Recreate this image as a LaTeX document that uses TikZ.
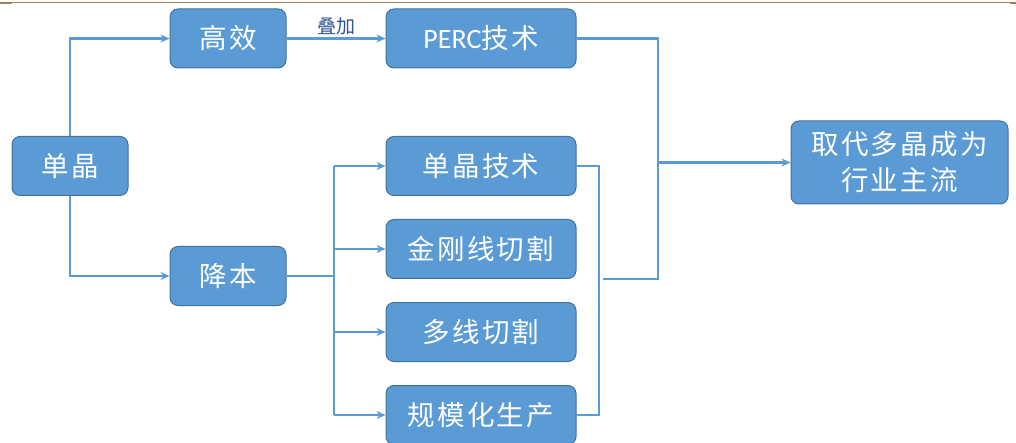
\documentclass[tikz,border=0pt]{standalone}
\usepackage{fontspec}
\setmainfont{Carlito}
\newfontfamily\cjk[LetterSpace=8]{Noto Sans CJK SC}
\newfontfamily\cjklbl{Noto Sans CJK SC}
\usetikzlibrary{arrows.meta}
\definecolor{boxfill}{HTML}{5B9BD5}
\definecolor{boxline}{HTML}{41719C}
\definecolor{conn}{HTML}{5B9BD5}
\definecolor{topline}{HTML}{A57E5A}
\definecolor{lbl}{HTML}{2F5597}
\begin{document}
\begin{tikzpicture}[x=1pt,y=-1pt,
  box/.style={draw=boxline, fill=boxfill, line width=1pt, rounded corners=8pt,
    text=white, font=\cjk\fontsize{27.5}{36}\selectfont, inner sep=0pt, align=center},
  small/.style={box, minimum width=116pt, minimum height=59pt},
  wide/.style={box, minimum width=190pt, minimum height=59pt},
  conn/.style={draw=conn, line width=2.8pt},
  arr/.style={conn, -{Stealth[length=9pt,width=8pt]}}]
\useasboundingbox (0,0) rectangle (1016,443);
% top rule
\draw[topline, line width=1.2pt] (0,2.5) -- (1016,2.5);
\fill[topline] (0,1.8) rectangle (12,4.5);
\fill[topline] (1010,1.8) rectangle (1016,4.5);

\node[small] (dj) at (70,166) {单晶};
\node[small] (gx) at (228,38.5) {高效};
\node[small] (jb) at (228,276) {降本};
\node[wide] (perc) at (481,38.5) {{\fontspec{Carlito}\fontsize{28}{30}\selectfont PERC}技术};
\node[wide] (djjs) at (481,166) {单晶技术};
\node[wide] (jgx) at (481,249) {金刚线切割};
\node[wide] (dxq) at (481,332) {多线切割};
\node[wide] (gmh) at (481,415) {规模化生产};
\node[box, minimum width=217pt, minimum height=83pt] (qd) at (899.5,162.5) {取代多晶成为\\行业主流};

% connectors
\draw[arr] (dj.north) |- (gx.west);
\draw[arr] (dj.south) |- (jb.west);
\draw[arr] (gx.east) -- node[above, pos=0.5, text=lbl, font=\cjklbl\fontsize{19}{22}\selectfont, inner sep=2pt] {叠加} (perc.west);

\coordinate (sp) at (334,276);
\draw[conn] (jb.east) -- (sp);
\draw[conn] (334,166) -- (334,415);
\draw[arr] (334,166) -- (djjs.west);
\draw[arr] (334,249) -- (jgx.west);
\draw[arr] (334,332) -- (dxq.west);
\draw[arr] (334,415) -- (gmh.west);

\coordinate (br) at (599,279);
\draw[conn] (djjs.east) -| (br);
\draw[conn] (gmh.east) -| (br);
\coordinate (mg) at (658,162.5);
\draw[conn] (perc.east) -| (658,279) -- (603,279);
\draw[arr] (mg) -- (qd.west);
\end{tikzpicture}
\end{document}
